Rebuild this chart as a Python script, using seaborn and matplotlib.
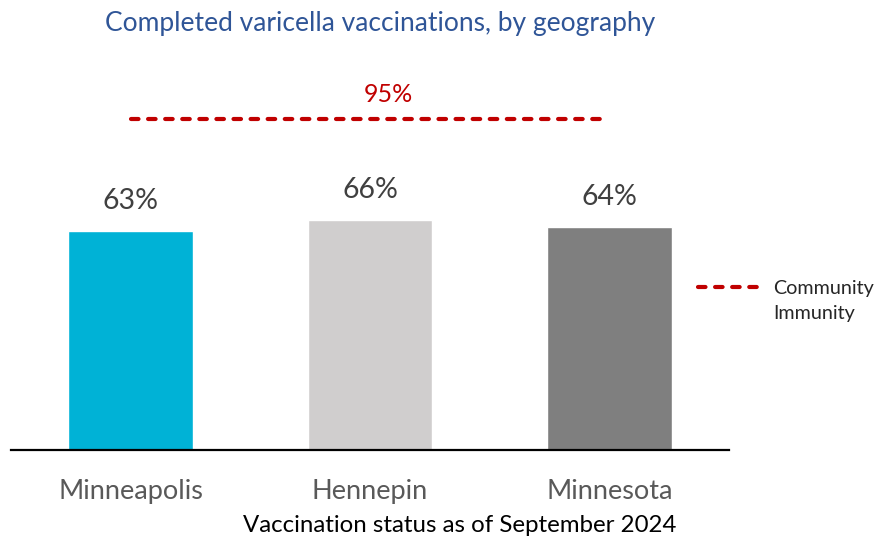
import matplotlib
matplotlib.use("Agg")
import matplotlib.pyplot as plt
from matplotlib.lines import Line2D
import seaborn as sns
import pandas as pd

# data
geographies = ["Minneapolis", "Hennepin", "Minnesota"]
completed_pct = [63, 66, 64]
immunity_target = 95
bar_colors = ["#00B2D6", "#D0CECE", "#7F7F7F"]

df = pd.DataFrame({"geo": geographies, "pct": completed_pct})

sns.set_theme(style="white")
plt.rcParams["font.family"] = ["Lato", "DejaVu Sans"]

fig = plt.figure(figsize=(8.78, 5.39), dpi=100)
# axes placed so the baseline sits where the reference has it
ax = fig.add_axes([11 / 878, (539 - 449.5) / 539, 718 / 878, 449.5 / 539])

sns.barplot(data=df, x="geo", y="pct", hue="geo", palette=bar_colors,
            width=0.52, legend=False, ax=ax, saturation=1)

# community immunity line across the categories
dash = (0, (1.8, 2.3))
line, = ax.plot([0, len(geographies) - 1], [immunity_target] * 2, color="#C00000",
                lw=3, ls=dash, dash_capstyle="round")
ax.annotate(f"{immunity_target}%", (1, immunity_target), xytext=(18, 25),
            textcoords="offset pixels", ha="center", va="center",
            color="#C00000", fontsize=18)

for i, v in enumerate(completed_pct):
    ax.annotate(f"{v}%", (i, v), xytext=(0, 30), textcoords="offset pixels",
                ha="center", va="center", color="#404040", fontsize=20.5)

ax.set_xlim(-0.5, 2.5)
ax.set_ylim(0, 449.5 / 3.476)
ax.set_yticks([])
ax.set_ylabel("")
for s in ["top", "left", "right"]:
    ax.spines[s].set_visible(False)
ax.spines["bottom"].set_color("black")
ax.spines["bottom"].set_linewidth(1.6)
ax.tick_params(axis="x", length=0, pad=21, labelsize=19.5, labelcolor="#595959")

ax.set_xlabel("Vaccination status as of September 2024", fontsize=17.3, color="black")
ax.xaxis.set_label_coords((459.5 - 11) / 718, -(526 - 449.5) / 449.5)
ax.xaxis.label.set_va("center")

fig.text(380 / 878, 1 - 23 / 539, "Completed varicella vaccinations, by geography",
         ha="center", va="center", color="#2F5597", fontsize=19)

# legend: handle next to first line of the two-line label
handles = [Line2D([], [], color="#C00000", lw=3, ls=dash, dash_capstyle="round"),
           Line2D([], [], color="none")]
ax.legend(handles, ["Community", "Immunity"], loc="upper left",
          bbox_to_anchor=(698 / 878, 1 - 280 / 539),
          bbox_transform=fig.transFigure, frameon=False, fontsize=14.2,
          handlelength=3.4, handletextpad=0.4, borderaxespad=0, borderpad=0,
          labelspacing=0.42)

fig.savefig("out.png", dpi=100)
